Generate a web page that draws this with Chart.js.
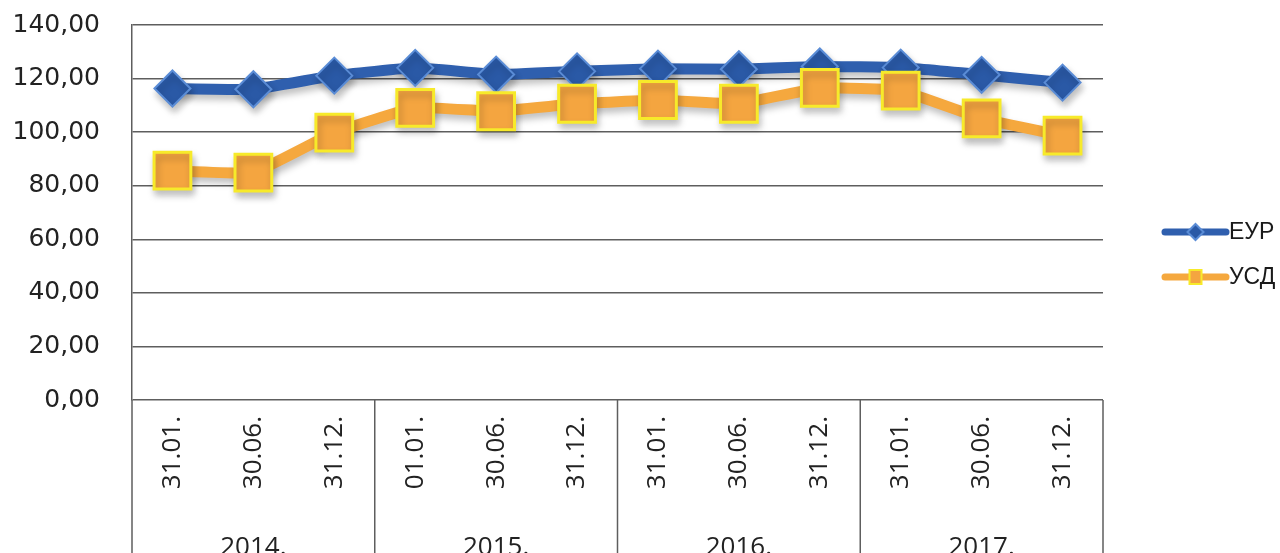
<!DOCTYPE html>
<html>
<head>
<meta charset="utf-8">
<script src="https://cdn.jsdelivr.net/npm/chart.js@4"></script>
<style>
  html, body { margin: 0; padding: 0; background: #ffffff; }
  #wrap { width: 1280px; height: 553px; position: relative; }
</style>
</head>
<body>
<div id="wrap"><canvas id="c"></canvas></div>
<script>
const categories = ['31.01.', '30.06.', '31.12.', '01.01.', '30.06.', '31.12.', '31.01.', '30.06.', '31.12.', '31.01.', '30.06.', '31.12.'];
const years = ['2014.', '2015.', '2016.', '2017.'];
const eurLabel = 'ЕУР';
const usdLabel = 'УСД';
const eurValues = [116.3, 116.0, 121.1, 124.0, 121.5, 122.7, 123.7, 123.5, 124.5, 124.1, 121.4, 118.5];
const usdValues = [85.6, 84.9, 99.8, 109.1, 107.8, 110.6, 112.0, 110.6, 116.5, 115.5, 105.1, 98.7];
const yMin = 0, yMax = 140, yStep = 20;

const gridColor = '#5e5e5e';

const shadowPlugin = {
  id: 'shadow',
  beforeDatasetsDraw(chart) {
    const ctx = chart.ctx;
    ctx.save();
    ctx.shadowColor = 'rgba(0,0,0,0.25)';
    ctx.shadowBlur = 7;
    ctx.shadowOffsetX = 2;
    ctx.shadowOffsetY = 5;
  },
  afterDatasetsDraw(chart) {
    chart.ctx.restore();
  }
};

const groupPlugin = {
  id: 'groups',
  afterDraw(chart) {
    const ctx = chart.ctx;
    const xs = chart.scales.x;
    const area = chart.chartArea;
    const bottom = chart.height;
    ctx.save();
    ctx.strokeStyle = gridColor;
    ctx.lineWidth = 1.5;
    const per = categories.length / years.length;
    const bounds = [];
    for (let g = 0; g <= years.length; g++) {
      bounds.push(xs.getPixelForValue(g * per - 0.5));
    }
    bounds.forEach((bx) => {
      ctx.beginPath();
      ctx.moveTo(bx, area.bottom);
      ctx.lineTo(bx, bottom);
      ctx.stroke();
    });
    ctx.fillStyle = '#222222';
    ctx.font = '26px "Open Sans"';
    ctx.textAlign = 'center';
    ctx.textBaseline = 'alphabetic';
    years.forEach((y, i) => {
      const cx = (bounds[i] + bounds[i + 1]) / 2;
      ctx.fillText(y, cx, 555);
    });

    // legend
    const items = chart.data.datasets.map((ds) => ds);
    const lx0 = 1165, lx1 = 1226;
    const rows = [232, 277];
    items.forEach((ds, i) => {
      const ly = rows[i];
      ctx.strokeStyle = ds.borderColor;
      ctx.lineWidth = 7;
      ctx.lineCap = 'round';
      ctx.beginPath();
      ctx.moveTo(lx0, ly);
      ctx.lineTo(lx1, ly);
      ctx.stroke();
      const mx = (lx0 + lx1) / 2;
      ctx.fillStyle = ds.pointBackgroundColor;
      ctx.strokeStyle = ds.pointBorderColor;
      ctx.lineWidth = 2;
      ctx.beginPath();
      if (ds.pointStyle === 'rectRot') {
        const r = 8;
        ctx.moveTo(mx - r, ly);
        ctx.lineTo(mx, ly - r);
        ctx.lineTo(mx + r, ly);
        ctx.lineTo(mx, ly + r);
        ctx.closePath();
      } else {
        ctx.rect(mx - 6, ly - 7, 12, 14);
      }
      ctx.fill();
      ctx.stroke();
      ctx.fillStyle = '#1a1a1a';
      ctx.font = '23px "Liberation Sans"';
      ctx.textAlign = 'left';
      ctx.textBaseline = 'middle';
      ctx.fillText(ds.label, lx1 + 3, ly + 1);
    });
    ctx.restore();
  }
};

new Chart(document.getElementById('c'), {
  type: 'line',
  data: {
    labels: categories,
    datasets: [
      {
        label: eurLabel,
        data: eurValues,
        borderColor: '#2f5fae',
        borderWidth: 11,
        pointStyle: 'rectRot',
        pointRadius: 18,
        pointBackgroundColor: '#2a59a6',
        pointBorderColor: '#5a8cd6',
        pointBorderWidth: 2,
        tension: 0.1,
        order: 2
      },
      {
        label: usdLabel,
        data: usdValues,
        borderColor: '#f5a83e',
        borderWidth: 11,
        pointStyle: 'rect',
        pointRadius: 26,
        pointBackgroundColor: '#f4a540',
        pointBorderColor: '#f7ea2a',
        pointBorderWidth: 3,
        tension: 0.1,
        order: 1
      }
    ]
  },
  options: {
    responsive: true,
    maintainAspectRatio: false,
    animation: false,
    layout: { autoPadding: false, padding: { left: 0, right: 177, top: 25, bottom: 0 } },
    plugins: {
      legend: { display: false },
      tooltip: { enabled: false }
    },
    scales: {
      x: {
        type: 'category',
        offset: true,
        grid: { display: false, drawTicks: false },
        border: { display: false },
        ticks: {
          autoSkip: false,
          maxRotation: 90,
          minRotation: 90,
          padding: 16,
          color: '#222222',
          font: { family: '"Open Sans"', size: 26 }
        },
        afterFit(scale) { scale.height = 153; }
      },
      y: {
        min: yMin,
        max: yMax,
        grid: { color: gridColor, lineWidth: 1.5, drawTicks: false },
        border: { display: true, color: gridColor, width: 1.5 },
        ticks: {
          stepSize: yStep,
          padding: 32,
          color: '#222222',
          font: { family: '"DejaVu Sans"', size: 25 },
          callback: (v) => Number(v).toFixed(2).replace('.', ',')
        },
        afterFit(scale) {
          scale.width = 132;
          scale.paddingTop = 10;
          scale.paddingBottom = 10;
        }
      }
    }
  },
  plugins: [shadowPlugin, groupPlugin]
});
</script>
</body>
</html>
